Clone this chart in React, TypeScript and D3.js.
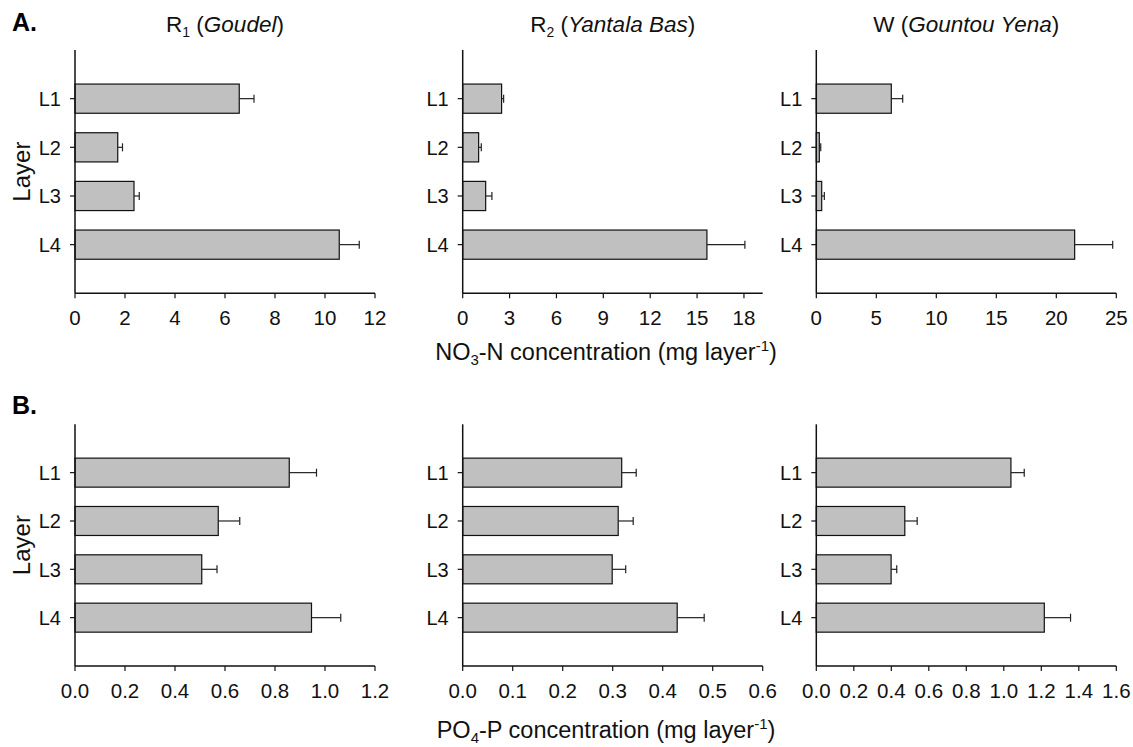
import React from "react";
import * as d3 from "d3";

// Soil layers, top to bottom
const layers = ["L1", "L2", "L3", "L4"];

// NO3-N concentration (mg layer^-1), mean and standard error
const no3Goudel = [6.57, 1.71, 2.36, 10.57];
const no3GoudelErr = [0.59, 0.19, 0.21, 0.8];
const no3Yantala = [2.49, 1.02, 1.47, 15.63];
const no3YantalaErr = [0.13, 0.17, 0.4, 2.43];
const no3Gountou = [6.25, 0.25, 0.45, 21.53];
const no3GountouErr = [0.95, 0.12, 0.22, 3.17];

// PO4-P concentration (mg layer^-1), mean and standard error
const po4Goudel = [0.857, 0.573, 0.507, 0.946];
const po4GoudelErr = [0.109, 0.086, 0.061, 0.117];
const po4Yantala = [0.318, 0.311, 0.299, 0.429];
const po4YantalaErr = [0.029, 0.03, 0.027, 0.054];
const po4Gountou = [1.038, 0.472, 0.399, 1.216];
const po4GountouErr = [0.071, 0.066, 0.03, 0.14];

// Axis ticks
const ticksNo3Goudel = [0, 2, 4, 6, 8, 10, 12];
const ticksNo3Yantala = [0, 3, 6, 9, 12, 15, 18];
const ticksNo3Gountou = [0, 5, 10, 15, 20, 25];
const ticksPo4Goudel = [0, 0.2, 0.4, 0.6, 0.8, 1.0, 1.2];
const ticksPo4Yantala = [0, 0.1, 0.2, 0.3, 0.4, 0.5, 0.6];
const ticksPo4Gountou = [0, 0.2, 0.4, 0.6, 0.8, 1.0, 1.2, 1.4, 1.6];

const FONT = "'Liberation Sans', Arial, Helvetica, sans-serif";

type PanelProps = {
  x0: number;
  top: number;
  bottom: number;
  max: number;
  ticks: number[];
  decimals: number;
  values: number[];
  errors: number[];
};

function Panel({ x0, top, bottom, max, ticks, decimals, values, errors }: PanelProps) {
  const width = 300;
  const x = d3.scaleLinear().domain([0, max]).range([x0, x0 + width]);
  // five equal slots; the layers sit on slots 1..4
  const y = d3.scaleLinear().domain([0, 5]).range([top, bottom]);
  const slot = y(1) - y(0);
  const barH = slot * 0.6;
  const fmt = d3.format(`.${decimals}f`);
  return (
    <g>
      {layers.map((l, i) => {
        const cy = y(i + 1);
        const v = values[i];
        const e = errors[i];
        return (
          <g key={l}>
            <rect
              x={x(0)}
              y={cy - barH / 2}
              width={x(v) - x(0)}
              height={barH}
              fill="#c0c0c0"
              stroke="#111"
              strokeWidth={1.2}
            />
            <line x1={x(v)} x2={x(v + e)} y1={cy} y2={cy} stroke="#222" strokeWidth={1.2} />
            <line x1={x(v + e)} x2={x(v + e)} y1={cy - 4} y2={cy + 4} stroke="#222" strokeWidth={1.2} />
            <line x1={x0 - 5} x2={x0} y1={cy} y2={cy} stroke="#111" strokeWidth={1.2} />
            <text
              x={x0 - 14}
              y={cy}
              dy="0.36em"
              textAnchor="end"
              fontSize={20}
              fontFamily={FONT}
              fill="#111"
            >
              {l}
            </text>
          </g>
        );
      })}
      <line x1={x0} x2={x0} y1={top} y2={bottom} stroke="#111" strokeWidth={1.5} />
      <line x1={x0} x2={x0 + width} y1={bottom} y2={bottom} stroke="#111" strokeWidth={1.5} />
      {ticks.map((t) => (
        <g key={t}>
          <line x1={x(t)} x2={x(t)} y1={bottom} y2={bottom + 5} stroke="#111" strokeWidth={1.2} />
          <text
            x={x(t)}
            y={bottom + 32}
            textAnchor="middle"
            fontSize={20.5}
            fontFamily={FONT}
            fill="#111"
          >
            {fmt(t)}
          </text>
        </g>
      ))}
    </g>
  );
}

function Title({ cx, main, sub, name }: { cx: number; main: string; sub?: string; name: string }) {
  return (
    <text x={cx} y={32} textAnchor="middle" fontSize={22.5} fontFamily={FONT} fill="#111">
      {main}
      {sub ? (
        <>
          <tspan dy={5} fontSize={14}>{sub}</tspan>
          <tspan dy={-5}> (</tspan>
        </>
      ) : (
        <tspan> (</tspan>
      )}
      <tspan fontStyle="italic">{name}</tspan>
      <tspan>)</tspan>
    </text>
  );
}

function AxisTitle({ cx, y, species, sub, element }: { cx: number; y: number; species: string; sub: string; element: string }) {
  return (
    <text x={cx} y={y} textAnchor="middle" fontSize={23.5} fontFamily={FONT} fill="#111">
      {species}
      <tspan dy={5} fontSize={15}>{sub}</tspan>
      <tspan dy={-5}>{`-${element} concentration (mg layer`}</tspan>
      <tspan dy={-9} fontSize={15}>-1</tspan>
      <tspan dy={9}>)</tspan>
    </text>
  );
}

export default function App() {
  const cols = [75, 462.7, 816.3];
  const topA = 50;
  const botA = 293.3;
  const topB = 424.3;
  const botB = 666;
  return (
    <svg
      width={1133}
      height={747}
      style={{ position: "absolute", left: 0, top: 0, background: "#fff" }}
    >
      <rect width={1133} height={747} fill="#fff" />
      <text x={12} y={31} fontSize={25} fontWeight="bold" fontFamily={FONT} fill="#000">A.</text>
      <text x={12} y={414} fontSize={25} fontWeight="bold" fontFamily={FONT} fill="#000">B.</text>

      <Title cx={cols[0] + 150} main="R" sub="1" name="Goudel" />
      <Title cx={cols[1] + 150} main="R" sub="2" name="Yantala Bas" />
      <Title cx={cols[2] + 150} main="W" name="Gountou Yena" />

      <Panel x0={cols[0]} top={topA} bottom={botA} max={12} ticks={ticksNo3Goudel} decimals={0} values={no3Goudel} errors={no3GoudelErr} />
      <Panel x0={cols[1]} top={topA} bottom={botA} max={19.2} ticks={ticksNo3Yantala} decimals={0} values={no3Yantala} errors={no3YantalaErr} />
      <Panel x0={cols[2]} top={topA} bottom={botA} max={25} ticks={ticksNo3Gountou} decimals={0} values={no3Gountou} errors={no3GountouErr} />

      <Panel x0={cols[0]} top={topB} bottom={botB} max={1.2} ticks={ticksPo4Goudel} decimals={1} values={po4Goudel} errors={po4GoudelErr} />
      <Panel x0={cols[1]} top={topB} bottom={botB} max={0.6} ticks={ticksPo4Yantala} decimals={1} values={po4Yantala} errors={po4YantalaErr} />
      <Panel x0={cols[2]} top={topB} bottom={botB} max={1.6} ticks={ticksPo4Gountou} decimals={1} values={po4Gountou} errors={po4GountouErr} />

      <text
        transform={`translate(30, ${(topA + botA) / 2}) rotate(-90)`}
        textAnchor="middle"
        fontSize={24}
        fontFamily={FONT}
        fill="#111"
      >
        Layer
      </text>
      <text
        transform={`translate(30, ${(topB + botB) / 2}) rotate(-90)`}
        textAnchor="middle"
        fontSize={24}
        fontFamily={FONT}
        fill="#111"
      >
        Layer
      </text>

      <AxisTitle cx={606} y={360} species="NO" sub="3" element="N" />
      <AxisTitle cx={606} y={738} species="PO" sub="4" element="P" />
    </svg>
  );
}
